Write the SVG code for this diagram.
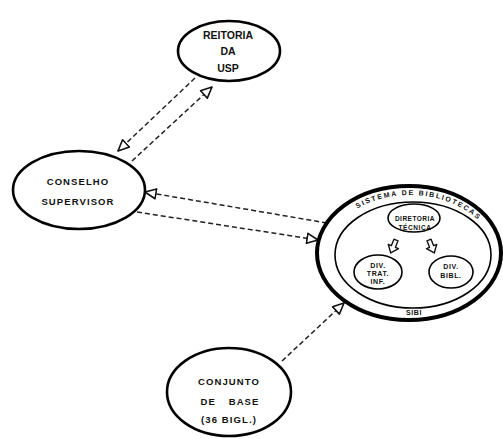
<svg xmlns="http://www.w3.org/2000/svg" width="503" height="439" viewBox="0 0 503 439">
<style>
.n{fill:#fff;stroke:#000;stroke-width:2.6}
.t{font-family:"Liberation Sans",Arial,sans-serif;font-weight:bold;fill:#111;text-anchor:middle}
.big{font-size:9.5px;letter-spacing:1.1px}
.sm{font-size:7px;letter-spacing:0.6px}
.c{fill:none;stroke:#222;stroke-width:1.5;stroke-dasharray:5 3}
.ba{fill:#fff;stroke:#111;stroke-width:1.4;stroke-linejoin:round}
</style>
<defs>
<marker id="ah" markerUnits="userSpaceOnUse" markerWidth="14" markerHeight="12" refX="11" refY="5" orient="auto" viewBox="-1 -1 14 12">
<path d="M0,0 L11,5 L0,10 Z" fill="#fff" stroke="#111" stroke-width="1.6" stroke-linejoin="round"/>
</marker>
<path id="blk" d="M-2.2,0 L2.2,0 L2.2,7 L5.5,7 L0,14 L-5.5,7 L-2.2,7 Z"/>
<path id="arc" d="M326,256 A84 61 0 0 1 494,256"/>
</defs>
<rect width="503" height="439" fill="#fff"/>
<g id="connectors">
<line class="c" x1="195" y1="78" x2="118" y2="151" marker-end="url(#ah)"/>
<line class="c" x1="132" y1="161" x2="212" y2="87" marker-end="url(#ah)"/>
<line class="c" x1="327" y1="223" x2="145" y2="192" marker-end="url(#ah)"/>
<line class="c" x1="137" y1="212" x2="318" y2="240" marker-end="url(#ah)"/>
<line class="c" x1="282" y1="361" x2="344" y2="303" marker-end="url(#ah)"/>
</g>
<g id="reitoria">
<ellipse class="n" cx="229" cy="51" rx="51" ry="30"/>
<text class="t" x="228" y="38.5" font-size="10.5">REITORIA</text>
<text class="t" x="228" y="55" font-size="10.5">DA</text>
<text class="t" x="228" y="71.5" font-size="10.5">USP</text>
</g>
<g id="conselho">
<ellipse class="n" cx="79" cy="190" rx="66" ry="39"/>
<text class="t big" x="78" y="184.5">CONSELHO</text>
<text class="t big" x="78" y="204.5">SUPERVISOR</text>
</g>
<g id="sibi">
<ellipse cx="409" cy="253" rx="92" ry="67" fill="#fff" stroke="#000" stroke-width="4"/>
<ellipse cx="413" cy="255" rx="78" ry="53" fill="none" stroke="#000" stroke-width="1.6"/>
<text class="t" font-size="7px"><textPath href="#arc" startOffset="54%" textLength="128" lengthAdjust="spacing">SISTEMA   DE   BIBLIOTECAS</textPath></text>
<text class="t sm" x="414" y="314.5">SIBI</text>
</g>
<g id="diretoria">
<ellipse cx="414" cy="218" rx="26" ry="14" fill="#fff" stroke="#000" stroke-width="1.6"/>
<text class="t" x="415" y="221" font-size="6.5" letter-spacing="0.5">DIRETORIA</text>
<text class="t" x="415" y="229.5" font-size="6.5" letter-spacing="0.6">TÉCNICA</text>
</g>
<g id="arrows-internal">
<use href="#blk" class="ba" transform="translate(396,240) rotate(22)"/>
<use href="#blk" class="ba" transform="translate(429,240) rotate(-22)"/>
</g>
<g id="div-trat">
<ellipse cx="378" cy="272" rx="24" ry="17" fill="#fff" stroke="#000" stroke-width="1.6"/>
<text class="t sm" x="378" y="267.5">DIV.</text>
<text class="t sm" x="378" y="275.5">TRAT.</text>
<text class="t sm" x="378" y="283.5">INF.</text>
</g>
<g id="div-bibl">
<ellipse cx="451" cy="272" rx="22" ry="16" fill="#fff" stroke="#000" stroke-width="1.6"/>
<text class="t sm" x="451" y="269">DIV.</text>
<text class="t sm" x="451" y="278">BIBL.</text>
</g>
<g id="conjunto">
<ellipse class="n" cx="229" cy="392" rx="62" ry="44"/>
<text class="t big" x="229" y="384.5" letter-spacing="1.5">CONJUNTO</text>
<text class="t big" x="230" y="404.5" word-spacing="9">DE BASE</text>
<text class="t big" x="229" y="422.5">(36 BIGL.)</text>
</g>
</svg>
